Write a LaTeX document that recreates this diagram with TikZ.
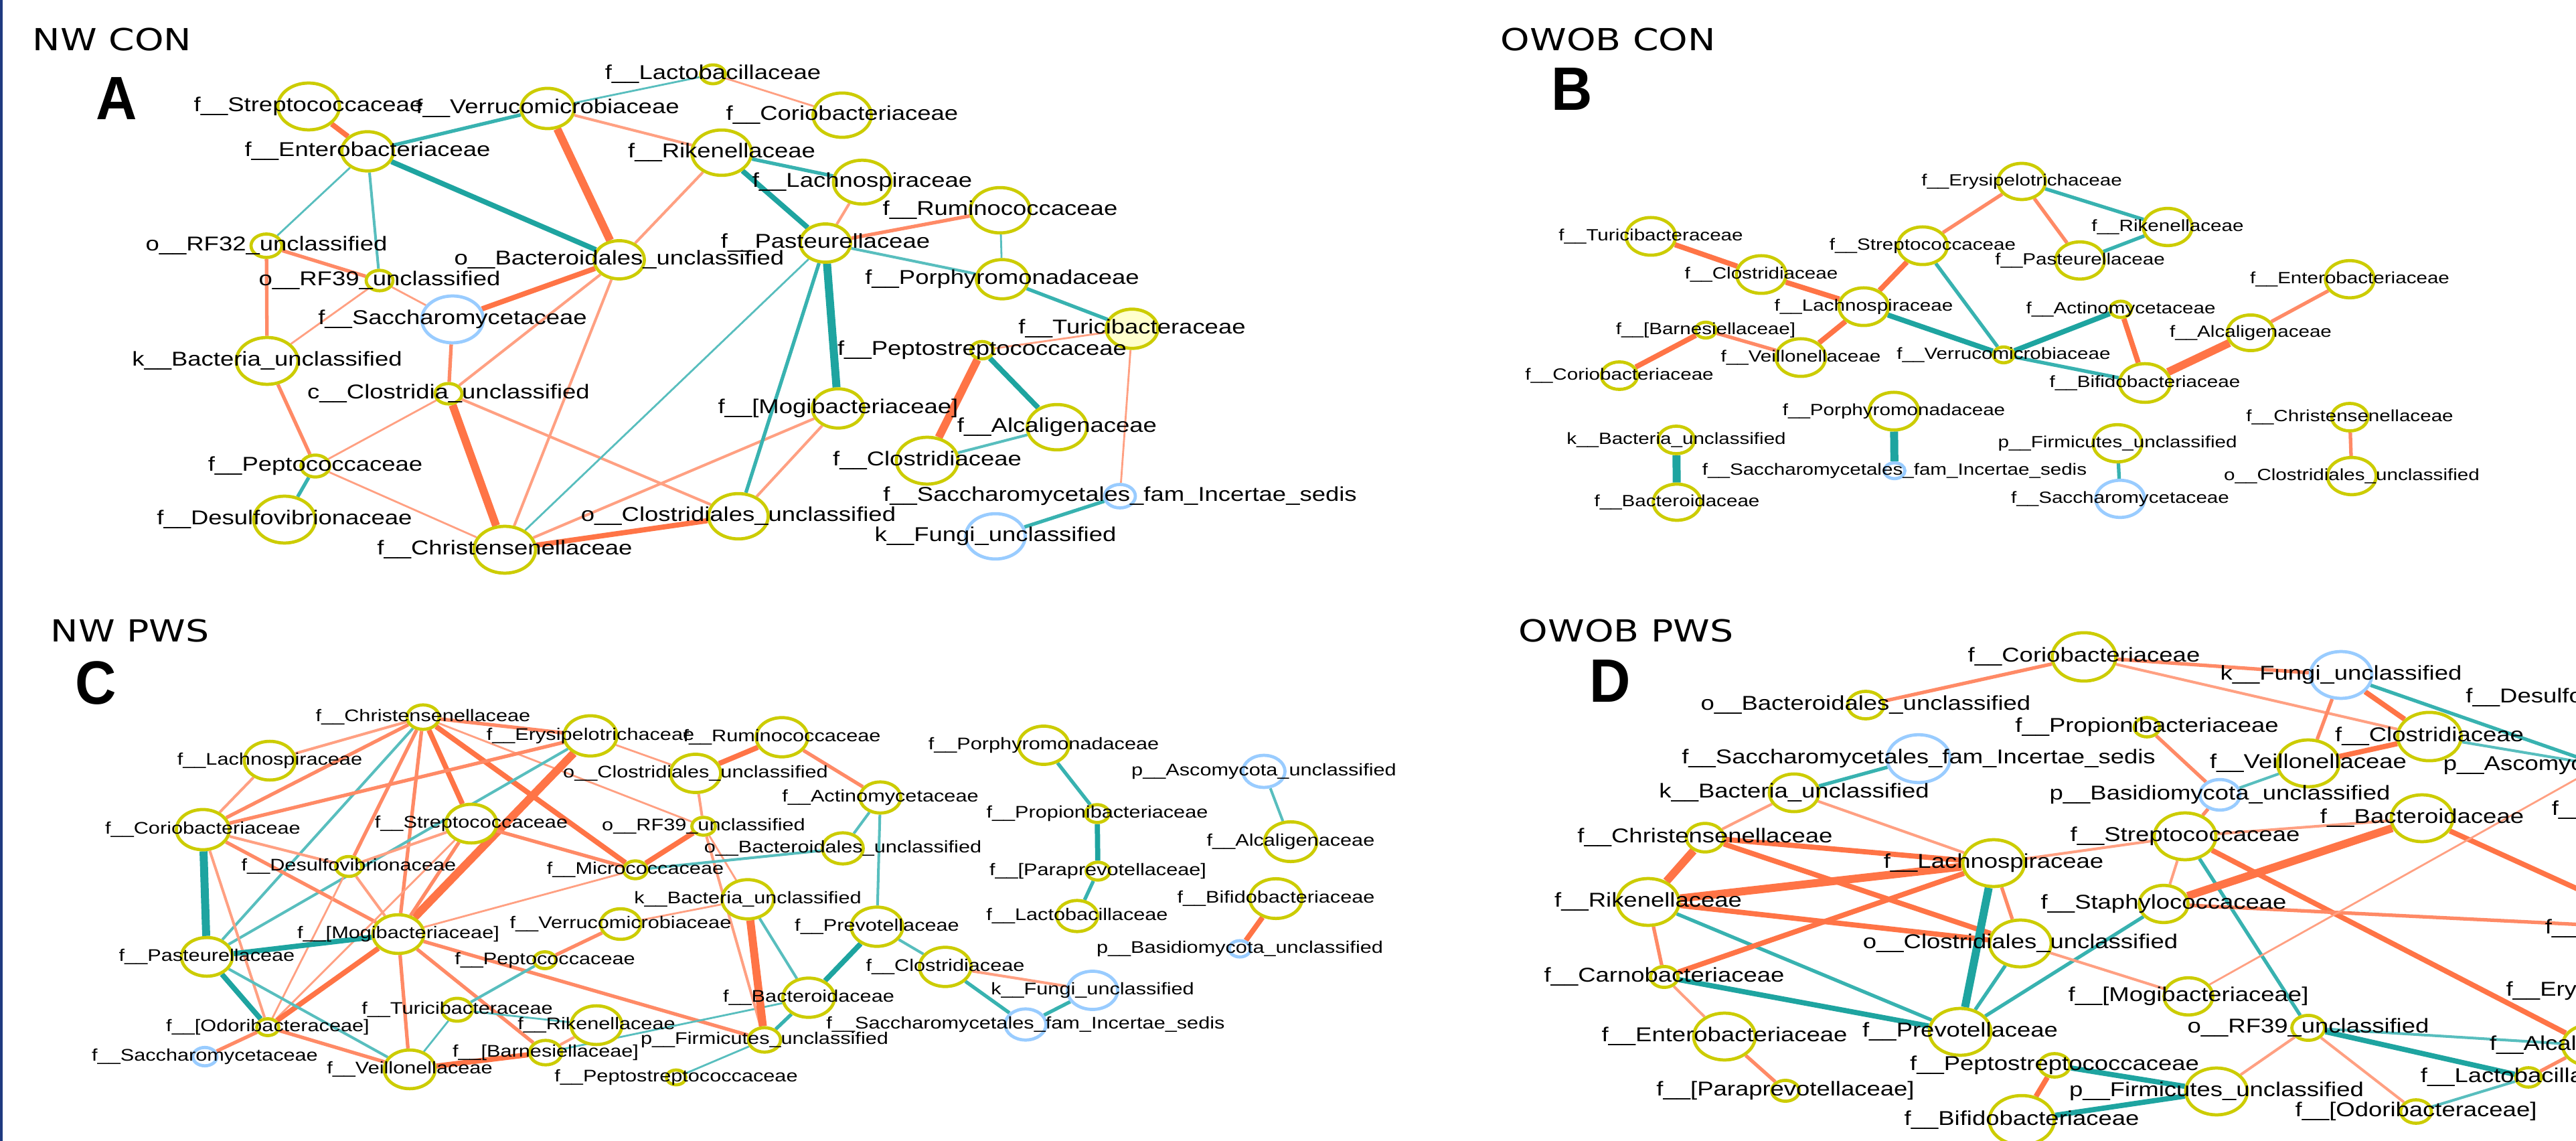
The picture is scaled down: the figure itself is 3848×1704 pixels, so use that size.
\documentclass[tikz,border=0pt]{standalone}
\usepackage{fontspec}
\setmainfont{Liberation Sans}
\newfontfamily\lblfont{Liberation Sans}[FakeStretch=1.22]
\newfontfamily\ttlfont{DejaVu Sans}[FakeStretch=1.22]
\newfontfamily\letfont{Liberation Sans}[FakeStretch=0.93]
\usetikzlibrary{shapes.geometric, backgrounds}
\definecolor{nodeY}{RGB}{204,204,0}
\definecolor{nodeB}{RGB}{153,204,255}
\definecolor{selY}{RGB}{255,255,204}
\definecolor{tealL}{RGB}{88,190,190}
\definecolor{tealM}{RGB}{56,178,176}
\definecolor{tealD}{RGB}{30,164,160}
\definecolor{salL}{RGB}{255,160,130}
\definecolor{salM}{RGB}{255,138,102}
\definecolor{salD}{RGB}{255,116,70}
\definecolor{frameblue}{RGB}{31,58,128}
\newcommand{\lblA}{\lblfont\fontsize{8.5}{10}\selectfont}
\newcommand{\lblB}{\lblfont\fontsize{6.9}{8}\selectfont}
\newcommand{\lblC}{\lblfont\fontsize{7.15}{8.5}\selectfont}
\newcommand{\taxon}[5][yel]{\node[#1=#4, label={[lbl]center:{#5}}] (#2) at (#3) {};}

\begin{document}
\begin{tikzpicture}[x=0.01cm, y=-0.01cm,
    yel/.style={ellipse, draw=nodeY, line width=1.35pt, fill=white, inner sep=0pt,
                minimum width=#1*0.01cm, minimum height=#1*0.0076cm},
    fun/.style={yel=#1, draw=nodeB},
    sel/.style={yel=#1, fill=selY},
    lbl/.style={font=\lblA},
    ttl/.style={anchor=base west, inner sep=0pt, font=\ttlfont\fontsize{12.9}{15}\selectfont},
    big/.style={anchor=base west, inner sep=0pt, font=\letfont\bfseries\fontsize{26}{30}\selectfont},
    t1/.style={draw=tealL, line width=0.8pt}, t2/.style={draw=tealL, line width=1.15pt},
    t3/.style={draw=tealM, line width=1.5pt}, t4/.style={draw=tealD, line width=2.2pt},
    t5/.style={draw=tealD, line width=3.4pt},
    s1/.style={draw=salL, line width=0.8pt}, s2/.style={draw=salL, line width=1.15pt},
    s3/.style={draw=salM, line width=1.5pt}, s4/.style={draw=salD, line width=2.2pt},
    s5/.style={draw=salD, line width=3.4pt}]
\useasboundingbox (0,0) rectangle (3848,1704);
\begin{pgfonlayer}{background}
  \fill[white] (0,0) rectangle (3848,1704);
\end{pgfonlayer}
\clip (0,0) rectangle (3848,1704);
\fill[frameblue] (0,0) rectangle (4,1704);

\node[ttl] (tA) at (48,76) {NW CON};
\node[big] (lA) at (143,179) {A};
\node[ttl] (tB) at (2241,76) {OWOB CON};
\node[big] (lB) at (2317,165) {B};
\node[ttl] (tC) at (75,959) {NW PWS};
\node[big] (lC) at (112,1052) {C};
\node[ttl] (tD) at (2268,959) {OWOB PWS};
\node[big] (lD) at (2374,1049) {D};

% A
\begin{scope}[lbl/.style={font=\lblA}]
\taxon{aStrep}{461,159}{92}{f\_\_Streptococcaceae}
\taxon{aEntero}{549,226}{77}{f\_\_Enterobacteriaceae}
\taxon{aVerru}{818,162}{79}{f\_\_Verrucomicrobiaceae}
\taxon{aRFtwo}{398,367}{46}{o\_\_RF32\_unclassified}
\taxon{aRFnine}{567,419}{40}{o\_\_RF39\_unclassified}
\taxon[fun]{aSacch}{676,477}{92}{f\_\_Saccharomycetaceae}
\taxon{aBact}{399,539}{92}{k\_\_Bacteria\_unclassified}
\taxon{aClos}{670,588}{40}{c\_\_Clostridia\_unclassified}
\taxon{aPepto}{471,696}{43}{f\_\_Peptococcaceae}
\taxon{aDesul}{425,776}{92}{f\_\_Desulfovibrionaceae}
\taxon{aChris}{754,821}{92}{f\_\_Christensenellaceae}
\taxon{aLacto}{1065,111}{37}{f\_\_Lactobacillaceae}
\taxon{aCorio}{1258,172}{87}{f\_\_Coriobacteriaceae}
\taxon{aRiken}{1078,228}{89}{f\_\_Rikenellaceae}
\taxon{aLachn}{1288,272}{86}{f\_\_Lachnospiraceae}
\taxon{aRumin}{1494,314}{89}{f\_\_Ruminococcaceae}
\taxon{aPaste}{1233,363}{75}{f\_\_Pasteurellaceae}
\taxon{aBdles}{925,388}{75}{o\_\_Bacteroidales\_unclassified}
\taxon{aPorph}{1497,417}{77}{f\_\_Porphyromonadaceae}
\taxon[sel]{aTuric}{1691,491}{77}{f\_\_Turicibacteraceae}
\taxon{aPstrep}{1467,523}{34}{f\_\_Peptostreptococcaceae}
\taxon{aMogi}{1252,610}{77}{f\_\_[Mogibacteriaceae]}
\taxon{aAlcal}{1579,638}{89}{f\_\_Alcaligenaceae}
\taxon{aClstr}{1385,688}{92}{f\_\_Clostridiaceae}
\taxon[fun]{aIncert}{1673,741}{46}{f\_\_Saccharomycetales\_fam\_Incertae\_sedis}
\taxon{aCldes}{1103,771}{89}{o\_\_Clostridiales\_unclassified}
\taxon[fun]{aFungi}{1487,801}{89}{k\_\_Fungi\_unclassified}
\begin{pgfonlayer}{background}
\draw[s4] (aStrep) -- (aEntero);
\draw[t3] (aEntero) -- (aVerru);
\draw[t4] (aEntero) -- (aBdles);
\draw[t1] (aEntero) -- (aRFtwo);
\draw[t2] (aEntero) -- (aRFnine);
\draw[s5] (aVerru) -- (aBdles);
\draw[t1] (aVerru) -- (aLacto);
\draw[s2] (aVerru) -- (aRiken);
\draw[s3] (aRFtwo) -- (aRFnine);
\draw[s3] (aRFtwo) -- (aBact);
\draw[s1] (aRFnine) -- (aSacch);
\draw[s1] (aRFnine) -- (aBact);
\draw[s4] (aSacch) -- (aBdles);
\draw[s3] (aSacch) -- (aClos);
\draw[s2] (aClos) -- (aBdles);
\draw[s1] (aClos) -- (aPepto);
\draw[s5] (aClos) -- (aChris);
\draw[s2] (aClos) -- (aCldes);
\draw[s3] (aBact) -- (aPepto);
\draw[t3] (aPepto) -- (aDesul);
\draw[s1] (aPepto) -- (aChris);
\draw[s2] (aChris) -- (aBdles);
\draw[t1] (aChris) -- (aPaste);
\draw[s4] (aChris) -- (aCldes);
\draw[s2] (aChris) -- (aMogi);
\draw[s1] (aLacto) -- (aCorio);
\draw[t3] (aRiken) -- (aLachn);
\draw[t4] (aRiken) -- (aPaste);
\draw[s2] (aRiken) -- (aBdles);
\draw[s2] (aLachn) -- (aPaste);
\draw[s3] (aPaste) -- (aRumin);
\draw[t2] (aPaste) -- (aPorph);
\draw[t5] (aPaste) -- (aMogi);
\draw[t3] (aPaste) -- (aCldes);
\draw[t1] (aRumin) -- (aPorph);
\draw[t3] (aPorph) -- (aTuric);
\draw[s1] (aTuric) -- (aPstrep);
\draw[s1] (aTuric) -- (aIncert);
\draw[s5] (aPstrep) -- (aClstr);
\draw[t4] (aPstrep) -- (aAlcal);
\draw[t2] (aAlcal) -- (aClstr);
\draw[s2] (aMogi) -- (aCldes);
\draw[t3] (aIncert) -- (aFungi);
\end{pgfonlayer}
\end{scope}

% B
\begin{scope}[lbl/.style={font=\lblB}]
\taxon{bTuric}{2466,353}{74}{f\_\_Turicibacteraceae}
\taxon{bClstr}{2631,410}{74}{f\_\_Clostridiaceae}
\taxon{bLachn}{2784,458}{74}{f\_\_Lachnospiraceae}
\taxon{bStrep}{2872,367}{74}{f\_\_Streptococcaceae}
\taxon{bErysi}{3020,271}{71}{f\_\_Erysipelotrichaceae}
\taxon{bBarne}{2548,493}{31}{f\_\_[Barnesiellaceae]}
\taxon{bCorio}{2419,561}{54}{f\_\_Coriobacteriaceae}
\taxon{bVeill}{2690,534}{74}{f\_\_Veillonellaceae}
\taxon{bVerru}{2993,530}{31}{f\_\_Verrucomicrobiaceae}
\taxon{bPorph}{2829,614}{74}{f\_\_Porphyromonadaceae}
\taxon[fun]{bIncert}{2830,703}{31}{f\_\_Saccharomycetales\_fam\_Incertae\_sedis}
\taxon{bBact}{2504,657}{54}{k\_\_Bacteria\_unclassified}
\taxon{bBcdae}{2505,750}{71}{f\_\_Bacteroidaceae}
\taxon{bRiken}{3238,339}{73}{f\_\_Rikenellaceae}
\taxon{bPaste}{3107,389}{73}{f\_\_Pasteurellaceae}
\taxon{bEntero}{3510,417}{73}{f\_\_Enterobacteriaceae}
\taxon{bActin}{3168,462}{32}{f\_\_Actinomycetaceae}
\taxon{bAlcal}{3362,497}{70}{f\_\_Alcaligenaceae}
\taxon{bBifid}{3204,572}{76}{f\_\_Bifidobacteriaceae}
\taxon{bChris}{3510,623}{54}{f\_\_Christensenellaceae}
\taxon{bCldes}{3513,711}{73}{o\_\_Clostridiales\_unclassified}
\taxon{bFirmi}{3163,662}{73}{p\_\_Firmicutes\_unclassified}
\taxon[fun]{bSacch}{3167,745}{73}{f\_\_Saccharomycetaceae}
\begin{pgfonlayer}{background}
\draw[s4] (bTuric) -- (bClstr);
\draw[s4] (bClstr) -- (bLachn);
\draw[s4] (bLachn) -- (bStrep);
\draw[s4] (bLachn) -- (bVeill);
\draw[t4] (bLachn) -- (bVerru);
\draw[s3] (bStrep) -- (bErysi);
\draw[t3] (bStrep) -- (bVerru);
\draw[s4] (bBarne) -- (bCorio);
\draw[s3] (bBarne) -- (bVeill);
\draw[t4] (bVerru) -- (bActin);
\draw[t3] (bVerru) -- (bBifid);
\draw[s4] (bActin) -- (bBifid);
\draw[s5] (bBifid) -- (bAlcal);
\draw[s3] (bAlcal) -- (bEntero);
\draw[t3] (bErysi) -- (bRiken);
\draw[s3] (bErysi) -- (bPaste);
\draw[t3] (bPaste) -- (bRiken);
\draw[s3] (bChris) -- (bCldes);
\draw[t3] (bFirmi) -- (bSacch);
\draw[t5] (bBact) -- (bBcdae);
\draw[t5] (bPorph) -- (bIncert);
\end{pgfonlayer}
\end{scope}

% C
\begin{scope}[lbl/.style={font=\lblC}]
\taxon{cChris}{632,1071}{48}{f\_\_Christensenellaceae}
\taxon{cErysi}{882,1099}{79}{f\_\_Erysipelotrichaceae}
\taxon{cLachn}{403,1136}{76}{f\_\_Lachnospiraceae}
\taxon{cCorio}{303,1239}{79}{f\_\_Coriobacteriaceae}
\taxon{cStrep}{704,1230}{76}{f\_\_Streptococcaceae}
\taxon{cDesul}{521,1294}{39}{f\_\_Desulfovibrionaceae}
\taxon{cMicro}{949,1299}{35}{f\_\_Micrococcaceae}
\taxon{cMogi}{595,1395}{76}{f\_\_[Mogibacteriaceae]}
\taxon{cVerru}{927,1380}{60}{f\_\_Verrucomicrobiaceae}
\taxon{cPaste}{309,1429}{76}{f\_\_Pasteurellaceae}
\taxon{cPepto}{814,1434}{33}{f\_\_Peptococcaceae}
\taxon{cTuric}{683,1508}{45}{f\_\_Turicibacteraceae}
\taxon{cRiken}{891,1531}{76}{f\_\_Rikenellaceae}
\taxon{cOdori}{400,1534}{33}{f\_\_[Odoribacteraceae]}
\taxon{cBarne}{815,1572}{48}{f\_\_[Barnesiellaceae]}
\taxon[fun]{cSacch}{306,1578}{36}{f\_\_Saccharomycetaceae}
\taxon{cVeill}{612,1597}{76}{f\_\_Veillonellaceae}
\taxon{cRumin}{1168,1101}{77}{f\_\_Ruminococcaceae}
\taxon{cCldes}{1039,1155}{75}{o\_\_Clostridiales\_unclassified}
\taxon{cActin}{1315,1191}{61}{f\_\_Actinomycetaceae}
\taxon{cRFnine}{1051,1234}{35}{o\_\_RF39\_unclassified}
\taxon{cBdles}{1259,1267}{61}{o\_\_Bacteroidales\_unclassified}
\taxon{cBact}{1117,1343}{77}{k\_\_Bacteria\_unclassified}
\taxon{cPrevo}{1310,1384}{77}{f\_\_Prevotellaceae}
\taxon{cClstr}{1412,1444}{77}{f\_\_Clostridiaceae}
\taxon{cBcdae}{1208,1490}{77}{f\_\_Bacteroidaceae}
\taxon[fun]{cFungi}{1632,1479}{75}{k\_\_Fungi\_unclassified}
\taxon[fun]{cIncert}{1532,1530}{61}{f\_\_Saccharomycetales\_fam\_Incertae\_sedis}
\taxon{cFirmi}{1142,1553}{48}{p\_\_Firmicutes\_unclassified}
\taxon{cPstrep}{1010,1609}{29}{f\_\_Peptostreptococcaceae}
\taxon{cPorph}{1559,1113}{75}{f\_\_Porphyromonadaceae}
\taxon{cPropi}{1639,1215}{35}{f\_\_Propionibacteriaceae}
\taxon{cPara}{1640,1301}{35}{f\_\_[Paraprevotellaceae]}
\taxon{cLacto}{1609,1368}{61}{f\_\_Lactobacillaceae}
\taxon[fun]{cAscom}{1888,1152}{63}{p\_\_Ascomycota\_unclassified}
\taxon{cAlcal}{1928,1257}{78}{f\_\_Alcaligenaceae}
\taxon{cBifid}{1906,1342}{78}{f\_\_Bifidobacteriaceae}
\taxon[fun]{cBasid}{1852,1417}{32}{p\_\_Basidiomycota\_unclassified}
\begin{pgfonlayer}{background}
\draw[s2] (cChris) -- (cLachn);
\draw[s3] (cChris) -- (cCorio);
\draw[s3] (cChris) -- (cErysi);
\draw[t2] (cChris) -- (cPaste);
\draw[s3] (cChris) -- (cDesul);
\draw[s3] (cChris) -- (cMogi);
\draw[s4] (cChris) -- (cStrep);
\draw[s4] (cChris) -- (cMicro);
\draw[s1] (cChris) -- (cRFnine);
\draw[s3] (cErysi) -- (cCorio);
\draw[t2] (cErysi) -- (cPaste);
\draw[s5] (cErysi) -- (cMogi);
\draw[s1] (cErysi) -- (cCldes);
\draw[s2] (cCorio) -- (cLachn);
\draw[t5] (cCorio) -- (cPaste);
\draw[s2] (cCorio) -- (cDesul);
\draw[s3] (cCorio) -- (cMogi);
\draw[s2] (cCorio) -- (cOdori);
\draw[s2] (cStrep) -- (cDesul);
\draw[s3] (cStrep) -- (cMogi);
\draw[s1] (cStrep) -- (cOdori);
\draw[s3] (cStrep) -- (cMicro);
\draw[s2] (cDesul) -- (cMogi);
\draw[s1] (cDesul) -- (cOdori);
\draw[t4] (cMogi) -- (cPaste);
\draw[s4] (cMogi) -- (cOdori);
\draw[s3] (cMogi) -- (cVeill);
\draw[s3] (cMogi) -- (cBarne);
\draw[s1] (cMogi) -- (cMicro);
\draw[s3] (cMogi) -- (cFirmi);
\draw[t4] (cPaste) -- (cOdori);
\draw[t2] (cPaste) -- (cVeill);
\draw[s3] (cOdori) -- (cSacch);
\draw[s3] (cOdori) -- (cVeill);
\draw[s4] (cVeill) -- (cBarne);
\draw[t1] (cVeill) -- (cTuric);
\draw[t2] (cTuric) -- (cPepto);
\draw[t1] (cTuric) -- (cRiken);
\draw[s3] (cPepto) -- (cVerru);
\draw[s2] (cRiken) -- (cBarne);
\draw[t1] (cBarne) -- (cBcdae);
\draw[s4] (cRumin) -- (cCldes);
\draw[s3] (cRumin) -- (cActin);
\draw[s2] (cCldes) -- (cRFnine);
\draw[s4] (cRFnine) -- (cMicro);
\draw[s1] (cRFnine) -- (cBact);
\draw[s2] (cRFnine) -- (cFirmi);
\draw[t2] (cMicro) -- (cBdles);
\draw[t2] (cBdles) -- (cActin);
\draw[t2] (cActin) -- (cPrevo);
\draw[s1] (cBact) -- (cVerru);
\draw[t2] (cBact) -- (cBcdae);
\draw[s5] (cBact) -- (cFirmi);
\draw[t4] (cPrevo) -- (cBcdae);
\draw[t2] (cPrevo) -- (cClstr);
\draw[s2] (cClstr) -- (cFungi);
\draw[t3] (cClstr) -- (cIncert);
\draw[t3] (cFungi) -- (cIncert);
\draw[t3] (cBcdae) -- (cFirmi);
\draw[t1] (cFirmi) -- (cPstrep);
\draw[t3] (cPorph) -- (cPropi);
\draw[t4] (cPropi) -- (cPara);
\draw[t3] (cPara) -- (cLacto);
\draw[t2] (cAscom) -- (cAlcal);
\draw[s4] (cBifid) -- (cBasid);
\end{pgfonlayer}
\end{scope}

% D
\begin{scope}[lbl/.style={font=\lblA}]
\taxon{dBdles}{2787,1053}{54}{o\_\_Bacteroidales\_unclassified}
\taxon{dCorio}{3113,981}{95}{f\_\_Coriobacteriaceae}
\taxon[fun]{dIncert}{2866,1133}{94}{f\_\_Saccharomycetales\_fam\_Incertae\_sedis}
\taxon{dBact}{2680,1184}{74}{k\_\_Bacteria\_unclassified}
\taxon{dChris}{2547,1251}{56}{f\_\_Christensenellaceae}
\taxon{dLachn}{2978,1289}{92}{f\_\_Lachnospiraceae}
\taxon{dRiken}{2462,1347}{92}{f\_\_Rikenellaceae}
\taxon{dCldes}{3018,1409}{92}{o\_\_Clostridiales\_unclassified}
\taxon{dCarno}{2486,1459}{41}{f\_\_Carnobacteriaceae}
\taxon{dEntero}{2576,1548}{92}{f\_\_Enterobacteriaceae}
\taxon{dPrevo}{2928,1541}{92}{f\_\_Prevotellaceae}
\taxon{dPara}{2667,1629}{41}{f\_\_[Paraprevotellaceae]}
\taxon{dPstrep}{3069,1591}{46}{f\_\_Peptostreptococcaceae}
\taxon{dBifid}{3020,1673}{97}{f\_\_Bifidobacteriaceae}
\taxon[fun]{dFungi}{3497,1008}{92}{k\_\_Fungi\_unclassified}
\taxon{dPropi}{3207,1086}{38}{f\_\_Propionibacteriaceae}
\taxon{dClstr}{3629,1100}{95}{f\_\_Clostridiaceae}
\taxon{dVeill}{3448,1140}{92}{f\_\_Veillonellaceae}
\taxon[fun]{dBasid}{3316,1187}{60}{p\_\_Basidiomycota\_unclassified}
\taxon{dBcdae}{3618,1222}{92}{f\_\_Bacteroidaceae}
\taxon{dStrep}{3264,1249}{92}{f\_\_Streptococcaceae}
\taxon{dStaph}{3232,1350}{73}{f\_\_Staphylococcaceae}
\taxon{dMogi}{3269,1488}{73}{f\_\_[Mogibacteriaceae]}
\taxon{dRFnine}{3448,1535}{49}{o\_\_RF39\_unclassified}
\taxon{dFirmi}{3311,1630}{92}{p\_\_Firmicutes\_unclassified}
\taxon{dOdori}{3609,1660}{46}{f\_\_[Odoribacteraceae]}
\taxon{dLacto}{3777,1609}{38}{f\_\_Lactobacillaceae}
\taxon{dAlcal}{3868,1561}{80}{f\_\_Alcaligenaceae}
\taxon{dDesul}{3874,1042}{30}{f\_\_Desulfovibrionaceae}
\taxon[fun]{dAscom}{3885,1143}{60}{p\_\_Ascomycota\_unclassified}
\taxon{dErysi}{3928,1480}{60}{f\_\_Erysipelotrichaceae}
\coordinate (dOffX) at (3981,1387);
\node[lbl, anchor=west, inner sep=0pt] (dFragA) at (3811,1210) {f\_\_};
\node[lbl, anchor=west, inner sep=0pt] (dFragB) at (3801,1387) {f\_\_};
\begin{pgfonlayer}{background}
\draw[s3] (dBdles) -- (dCorio);
\draw[s3] (dCorio) -- (dFungi);
\draw[s2] (dCorio) -- (dClstr);
\draw[s4] (dFungi) -- (dClstr);
\draw[s3] (dFungi) -- (dVeill);
\draw[t3] (dFungi) -- (dAscom);
\draw[s4] (dClstr) -- (dVeill);
\draw[t2] (dClstr) -- (dAscom);
\draw[t2] (dVeill) -- (dBasid);
\draw[s3] (dPropi) -- (dBasid);
\draw[s3] (dBasid) -- (dStrep);
\draw[s2] (dStrep) -- (dBcdae);
\draw[s2] (dStrep) -- (dLachn);
\draw[s2] (dStrep) -- (dStaph);
\draw[t3] (dStrep) -- (dRFnine);
\draw[s4] (dStrep) -- (dAlcal);
\draw[s5] (dStaph) -- (dBcdae);
\draw[s3] (dStaph) -- (dOffX);
\draw[t3] (dStaph) -- (dPrevo);
\draw[s4] (dBcdae) -- (dOffX);
\draw[s2] (dMogi) -- (dCldes);
\draw[s1] (dMogi) -- (dAscom);
\draw[t2] (dRFnine) -- (dAlcal);
\draw[t4] (dRFnine) -- (dLacto);
\draw[s2] (dRFnine) -- (dOdori);
\draw[s2] (dRFnine) -- (dFirmi);
\draw[s3] (dLacto) -- (dAlcal);
\draw[t2] (dLacto) -- (dOdori);
\draw[t4] (dFirmi) -- (dPstrep);
\draw[t4] (dFirmi) -- (dBifid);
\draw[s4] (dPstrep) -- (dBifid);
\draw[t3] (dIncert) -- (dBact);
\draw[s2] (dBact) -- (dChris);
\draw[s2] (dBact) -- (dLachn);
\draw[s4] (dChris) -- (dLachn);
\draw[s4] (dChris) -- (dCldes);
\draw[s5] (dChris) -- (dRiken);
\draw[s5] (dRiken) -- (dLachn);
\draw[s4] (dRiken) -- (dCldes);
\draw[t3] (dRiken) -- (dPrevo);
\draw[s3] (dRiken) -- (dCarno);
\draw[s4] (dCarno) -- (dLachn);
\draw[t4] (dCarno) -- (dPrevo);
\draw[s2] (dCarno) -- (dEntero);
\draw[s3] (dEntero) -- (dPara);
\draw[s3] (dLachn) -- (dCldes);
\draw[t5] (dLachn) -- (dPrevo);
\draw[t3] (dCldes) -- (dPrevo);
\end{pgfonlayer}
\end{scope}
\end{tikzpicture}
\end{document}
